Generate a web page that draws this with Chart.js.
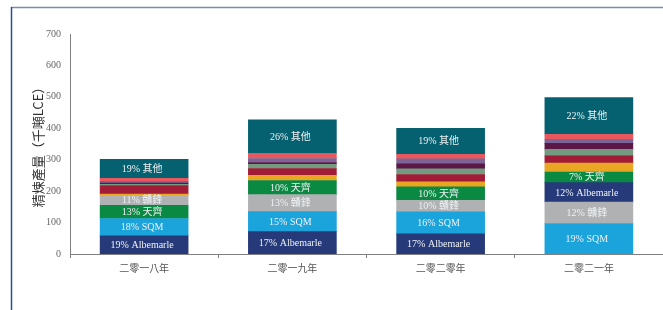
<!DOCTYPE html>
<html>
<head>
<meta charset="utf-8">
<title>精煉產量</title>
<script src="https://cdn.jsdelivr.net/npm/chart.js@4.4.0/dist/chart.umd.min.js"></script>
<style>
    body { margin: 0; background: #fff; }
    canvas { display: block; }
</style>
</head>
<body>
<canvas id="graficoProduccion" width="663" height="310"></canvas>
<script>
// Datos (千噸LCE)
const years = ['二零一八年', '二零一九年', '二零二零年', '二零二一年'];
const yTicks = [0, 100, 200, 300, 400, 500, 600, 700];

const albemarle = [58, 71, 64, 62];
const sqm = [55, 64, 70, 97];
const ganfeng = [32, 54, 37, 68];
const tianqi = [42, 45, 43, 34];
const producerA = [4, 16, 16, 28];   // naranja
const producerB = [27, 22, 23, 23];  // carmesi
const producerC = [4, 13, 18, 21];   // verde salvia
const producerD = [4, 6, 16, 19];    // ciruela
const producerE = [5, 13, 16, 13];   // malva
const producerF = [10, 16, 14, 16];  // rosa
const others = [60, 107, 83, 117];

const albemarlePct = ['19%', '17%', '17%', '12%'];
const sqmPct = ['18%', '15%', '16%', '19%'];
const ganfengPct = ['11%', '13%', '10%', '12%'];
const tianqiPct = ['13%', '10%', '10%', '7%'];
const othersPct = ['19%', '26%', '19%', '22%'];

// orden de apilado (de abajo hacia arriba) por año
const restOrder = ['producerA', 'producerB', 'producerC', 'producerD', 'producerE', 'producerF', 'others'];
const stackOrder = [
    ['albemarle', 'sqm', 'tianqi', 'ganfeng', ...restOrder],
    ['albemarle', 'sqm', 'ganfeng', 'tianqi', ...restOrder],
    ['albemarle', 'sqm', 'ganfeng', 'tianqi', ...restOrder],
    ['sqm', 'ganfeng', 'albemarle', 'tianqi', ...restOrder]
];

const series = {
    albemarle: { values: albemarle, pct: albemarlePct, name: 'Albemarle', color: '#263a7a' },
    sqm: { values: sqm, pct: sqmPct, name: 'SQM', color: '#1ba3dc' },
    ganfeng: { values: ganfeng, pct: ganfengPct, name: '贛鋒', color: '#b0b1b3' },
    tianqi: { values: tianqi, pct: tianqiPct, name: '天齊', color: '#0a8942' },
    producerA: { values: producerA, color: '#e9a623' },
    producerB: { values: producerB, color: '#a11c36' },
    producerC: { values: producerC, color: '#749a80' },
    producerD: { values: producerD, color: '#5b1847' },
    producerE: { values: producerE, color: '#7d6497' },
    producerF: { values: producerF, color: '#e9585e' },
    others: { values: others, pct: othersPct, name: '其他', color: '#05606f' }
};

/**
 * Arma un dataset por capa del apilado
 */
function buildDatasets() {
    const layers = stackOrder[0].length;
    const datasets = [];
    for (let i = 0; i < layers; i++) {
        const data = [], colors = [], labels = [];
        years.forEach((y, j) => {
            const s = series[stackOrder[j][i]];
            data.push(s.values[j]);
            colors.push(s.color);
            labels.push(s.pct ? s.pct[j] + ' ' + s.name : '');
        });
        datasets.push({
            data: data,
            backgroundColor: colors,
            segLabels: labels,
            borderWidth: 0,
            barThickness: 88
        });
    }
    return datasets;
}

// Marco azul (borde izquierdo y superior)
const framePlugin = {
    id: 'frame',
    beforeDraw(chart) {
        const ctx = chart.ctx;
        ctx.save();
        ctx.fillStyle = '#ffffff';
        ctx.fillRect(0, 0, chart.width, chart.height);
        ctx.strokeStyle = '#7d8bb0';
        ctx.lineWidth = 1.5;
        ctx.beginPath();
        ctx.moveTo(11, 7.5);
        ctx.lineTo(chart.width, 7.5);
        ctx.stroke();
        ctx.strokeStyle = '#2f4b9e';
        ctx.beginPath();
        ctx.moveTo(11.5, 7);
        ctx.lineTo(11.5, chart.height);
        ctx.stroke();
        ctx.restore();
    }
};

// Etiquetas dentro de cada segmento
const segLabelPlugin = {
    id: 'segLabels',
    afterDatasetsDraw(chart) {
        const ctx = chart.ctx;
        ctx.save();
        ctx.font = '10px "Liberation Serif", "Noto Sans CJK TC", serif';
        ctx.fillStyle = '#eef2f4';
        ctx.textAlign = 'center';
        ctx.textBaseline = 'middle';
        chart.data.datasets.forEach((ds, i) => {
            const meta = chart.getDatasetMeta(i);
            meta.data.forEach((bar, j) => {
                const txt = ds.segLabels[j];
                if (!txt) return;
                ctx.fillText(txt, bar.x - 2, (bar.y + bar.base) / 2 + 0.5);
            });
        });
        ctx.restore();
    }
};

new Chart(document.getElementById('graficoProduccion'), {
    type: 'bar',
    data: {
        labels: years,
        datasets: buildDatasets()
    },
    options: {
        responsive: false,
        animation: false,
        events: [],
        layout: { padding: { top: 34, right: 0, bottom: 0, left: 0 } },
        plugins: {
            legend: { display: false },
            tooltip: { enabled: false }
        },
        scales: {
            x: {
                stacked: true,
                afterFit(scale) { scale.height = 56; },
                grid: {
                    display: true,
                    drawOnChartArea: false,
                    drawTicks: true,
                    tickLength: 4,
                    color: '#808080',
                    offset: true
                },
                border: { display: true, color: '#808080', width: 1 },
                ticks: {
                    padding: 4,
                    color: '#555',
                    font: { family: '"Noto Sans CJK TC", sans-serif', size: 10 }
                }
            },
            y: {
                stacked: true,
                min: 0,
                max: 700,
                afterFit(scale) { scale.width = 70; },
                afterBuildTicks(scale) {
                    scale.ticks = yTicks.map(v => ({ value: v }));
                },
                grid: { display: false, drawTicks: false },
                border: { display: true, color: '#808080', width: 1 },
                ticks: {
                    padding: 9,
                    color: '#666',
                    font: { family: '"Liberation Serif", serif', size: 10 }
                },
                title: {
                    display: true,
                    text: '精煉產量（千噸LCE）',
                    color: '#333',
                    padding: { top: 30, bottom: 0 },
                    font: { family: '"Noto Sans CJK TC", sans-serif', size: 13 }
                }
            }
        }
    },
    plugins: [framePlugin, segLabelPlugin]
});
</script>
</body>
</html>
